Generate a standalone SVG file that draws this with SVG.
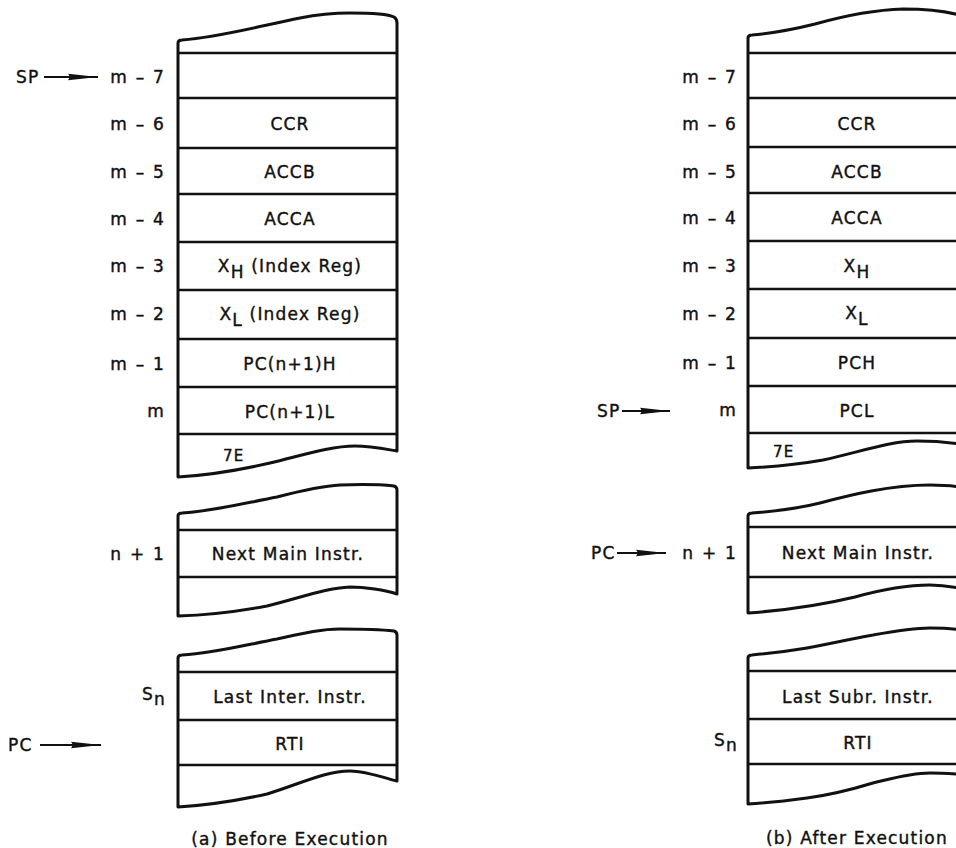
<svg xmlns="http://www.w3.org/2000/svg" width="956" height="848" viewBox="0 0 956 848">
<style>
.bg{fill:#fff}
.out{fill:#fff;stroke:#111;stroke-width:3;stroke-linejoin:round}
.sep{stroke:#111;stroke-width:2.6}
text{font-family:"DejaVu Sans","Liberation Sans",sans-serif;font-size:17px;fill:#111;stroke:#111;stroke-width:0.4px;letter-spacing:1.2px}
.c{text-anchor:middle}
.r{text-anchor:end;word-spacing:1px}
.sm{font-size:15px}
.arr{stroke:#111;stroke-width:2;fill:none;marker-end:url(#head)}
</style>
<defs>
<marker id="head" viewBox="0 0 30 8" refX="30" refY="4" markerWidth="30" markerHeight="8" markerUnits="userSpaceOnUse" orient="auto">
<path d="M0,0.8 L30,4 L0,7.2 Q3,4 0,0.8 Z" fill="#111"/>
</marker>
</defs>
<rect class="bg" x="0" y="0" width="956" height="848"/>

<!-- (a) Before Execution -->
<g id="a-stack-top">
<path class="out" d="M178,477 V43 Q178,40 182,40 C220,37 260,26 300,18 C320,14 335,13 350,13 C375,13 390,15 394,17 Q397,19 397,23 V451 C385,449 370,446 355,446 C330,446 300,456 270,463 C240,470 210,475 178,477 Z"/>
<line class="sep" x1="178" y1="53" x2="397" y2="53"/>
<line class="sep" x1="178" y1="98" x2="397" y2="98"/>
<line class="sep" x1="178" y1="148" x2="397" y2="148"/>
<line class="sep" x1="178" y1="194" x2="397" y2="194"/>
<line class="sep" x1="178" y1="242" x2="397" y2="242"/>
<line class="sep" x1="178" y1="290" x2="397" y2="290"/>
<line class="sep" x1="178" y1="339" x2="397" y2="339"/>
<line class="sep" x1="178" y1="387" x2="397" y2="387"/>
<line class="sep" x1="178" y1="434" x2="397" y2="434"/>
<text class="c" x="290" y="130">CCR</text>
<text class="c" x="290" y="178">ACCB</text>
<text class="c" x="290" y="225">ACCA</text>
<text class="c" x="290" y="272">X<tspan dy="6">H</tspan><tspan dy="-6"> (Index Reg)</tspan></text>
<text class="c" x="290" y="320">X<tspan dy="6">L</tspan><tspan dy="-6"> (Index Reg)</tspan></text>
<text class="c" x="290" y="370">PC(n+1)H</text>
<text class="c" x="290" y="418">PC(n+1)L</text>
<text class="sm" x="223" y="461">7E</text>
<text class="r" x="165" y="83">m – 7</text>
<text class="r" x="165" y="130">m – 6</text>
<text class="r" x="165" y="178">m – 5</text>
<text class="r" x="165" y="225">m – 4</text>
<text class="r" x="165" y="272">m – 3</text>
<text class="r" x="165" y="320">m – 2</text>
<text class="r" x="165" y="370">m – 1</text>
<text class="r" x="165" y="417">m</text>
<text x="16" y="83">SP</text>
</g>
<g id="a-stack-mid">
<path class="out" d="M178,616 V516 Q178,513 182,513 C215,511 245,503 277,497 C300,491 320,486 340,485 C365,484 385,485 394,486 Q397,487 397,490 V594 C385,590 365,587 350,587 C325,588 300,598 267,606 C240,611 210,615 178,616 Z"/>
<line class="sep" x1="178" y1="530" x2="397" y2="530"/>
<line class="sep" x1="178" y1="577" x2="397" y2="577"/>
<text class="c" x="288" y="560">Next Main Instr.</text>
<text class="r" x="165" y="560">n + 1</text>
</g>
<g id="a-stack-low">
<path class="out" d="M178,807 V658 Q178,655 182,655 C215,653 245,645 277,639 C300,634 320,629 340,629 C365,629 385,630 394,631 Q397,632 397,635 V781 C385,778 365,771 350,771 C325,771 300,784 267,794 C240,800 210,805 178,807 Z"/>
<line class="sep" x1="178" y1="672" x2="397" y2="672"/>
<line class="sep" x1="178" y1="720" x2="397" y2="720"/>
<line class="sep" x1="178" y1="765" x2="397" y2="765"/>
<text class="c" x="290" y="703">Last Inter. Instr.</text>
<text class="c" x="290" y="750">RTI</text>
<text x="142" y="700">S<tspan dy="5">n</tspan></text>
<text x="8" y="751">PC</text>
</g>
<text class="c" x="290" y="845">(a) Before Execution</text>

<!-- (b) After Execution -->
<g id="b-stack-top">
<path class="out" d="M748,468 V38 Q748,35 752,35 C775,33 795,29 815,24 C840,17 870,10 903,9 C930,9 950,12 963,16 Q967,17 967,21 V445 C955,443 935,441 917,441 C890,441 860,452 823,460 C795,465 770,467 748,468 Z"/>
<line class="sep" x1="748" y1="53" x2="967" y2="53"/>
<line class="sep" x1="748" y1="98" x2="967" y2="98"/>
<line class="sep" x1="748" y1="147" x2="967" y2="147"/>
<line class="sep" x1="748" y1="193" x2="967" y2="193"/>
<line class="sep" x1="748" y1="241" x2="967" y2="241"/>
<line class="sep" x1="748" y1="289" x2="967" y2="289"/>
<line class="sep" x1="748" y1="338" x2="967" y2="338"/>
<line class="sep" x1="748" y1="386" x2="967" y2="386"/>
<line class="sep" x1="748" y1="433" x2="967" y2="433"/>
<text class="c" x="857" y="130">CCR</text>
<text class="c" x="857" y="178">ACCB</text>
<text class="c" x="857" y="224">ACCA</text>
<text class="c" x="857" y="272">X<tspan dy="6">H</tspan></text>
<text class="c" x="857" y="319">X<tspan dy="6">L</tspan></text>
<text class="c" x="857" y="369">PCH</text>
<text class="c" x="857" y="417">PCL</text>
<text class="sm" x="773" y="457">7E</text>
<text class="r" x="737" y="83">m – 7</text>
<text class="r" x="737" y="130">m – 6</text>
<text class="r" x="737" y="178">m – 5</text>
<text class="r" x="737" y="224">m – 4</text>
<text class="r" x="737" y="272">m – 3</text>
<text class="r" x="737" y="320">m – 2</text>
<text class="r" x="737" y="369">m – 1</text>
<text class="r" x="737" y="416">m</text>
<text x="597" y="417">SP</text>
</g>
<g id="b-stack-mid">
<path class="out" d="M748,613 V516 Q748,513 752,513 C780,511 800,508 820,503 C850,495 890,485 930,485 C945,485 958,486 967,489 V590 C955,587 945,585 930,585 C905,585 880,590 855,597 C830,603 790,610 748,613 Z"/>
<line class="sep" x1="748" y1="527" x2="967" y2="527"/>
<line class="sep" x1="748" y1="577" x2="967" y2="577"/>
<text class="c" x="858" y="559">Next Main Instr.</text>
<text class="r" x="737" y="559">n + 1</text>
<text x="591" y="559">PC</text>
</g>
<g id="b-stack-low">
<path class="out" d="M748,804 V658 Q748,655 752,655 C775,653 795,650 807,648 C835,643 860,637 873,635 C895,631 915,628 930,628 C945,628 958,629 967,631 V775 C955,774 945,773 930,773 C910,773 890,779 873,783 C850,790 830,795 807,798 C785,801 765,803 748,804 Z"/>
<line class="sep" x1="748" y1="671" x2="967" y2="671"/>
<line class="sep" x1="748" y1="719" x2="967" y2="719"/>
<line class="sep" x1="748" y1="764" x2="967" y2="764"/>
<text class="c" x="858" y="703">Last Subr. Instr.</text>
<text class="c" x="858" y="749">RTI</text>
<text x="714" y="746">S<tspan dy="5">n</tspan></text>
</g>
<text class="c" x="857" y="844">(b) After Execution</text>

<g id="connectors">
<line class="arr" x1="44" y1="77" x2="98" y2="77"/>
<line class="arr" x1="40" y1="745" x2="101" y2="745"/>
<line class="arr" x1="622" y1="411" x2="670" y2="411"/>
<line class="arr" x1="617" y1="553" x2="666" y2="553"/>
</g>
</svg>
